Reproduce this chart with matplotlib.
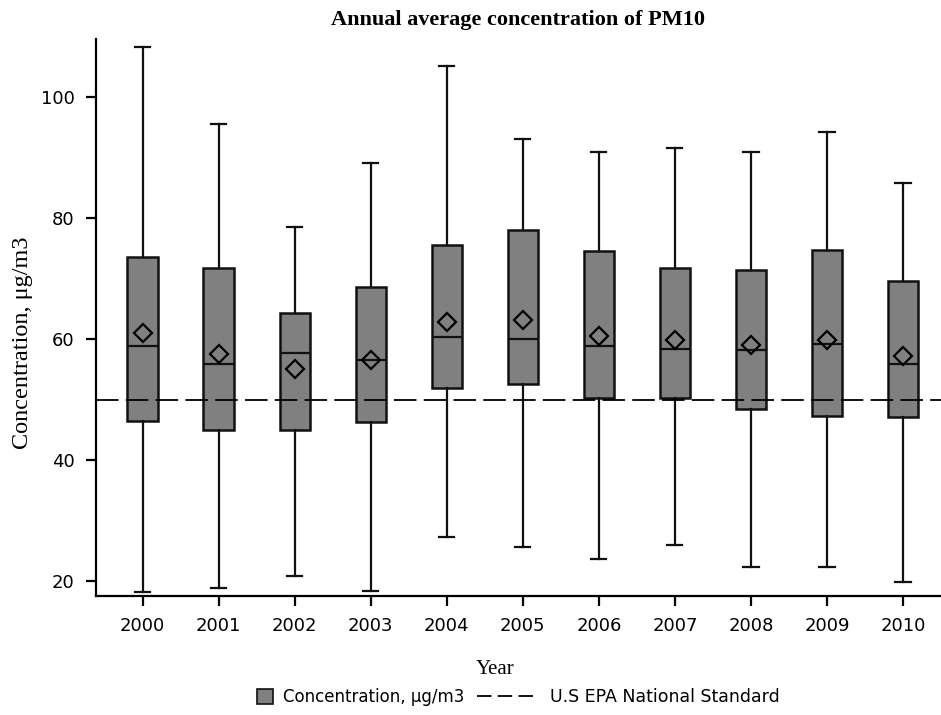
import matplotlib
matplotlib.use('Agg')
import matplotlib.pyplot as plt
from matplotlib.patches import Patch
from matplotlib.lines import Line2D

# data (ug/m3)
years = ['2000', '2001', '2002', '2003', '2004', '2005', '2006', '2007', '2008', '2009', '2010']
whislo = [18.2, 18.9, 20.9, 18.3, 27.3, 25.6, 23.7, 26.0, 22.3, 22.3, 19.8]
q1 = [46.5, 45.0, 45.0, 46.3, 52.0, 52.6, 50.2, 50.2, 48.4, 47.3, 47.1]
med = [58.8, 55.9, 57.7, 56.6, 60.3, 60.1, 58.9, 58.4, 58.2, 59.2, 55.9]
q3 = [73.6, 71.8, 64.3, 68.7, 75.6, 78.0, 74.6, 71.8, 71.4, 74.8, 69.7]
whishi = [108.4, 95.6, 78.5, 89.2, 105.2, 93.1, 90.9, 91.7, 91.0, 94.3, 85.8]
means = [61.0, 57.5, 55.1, 56.5, 62.8, 63.2, 60.6, 59.8, 59.0, 59.9, 57.2]
standard = 50

stats = []
for i in range(len(years)):
    stats.append({'label': years[i], 'whislo': whislo[i], 'q1': q1[i], 'med': med[i],
                  'q3': q3[i], 'whishi': whishi[i], 'mean': means[i], 'fliers': []})

fig = plt.figure(figsize=(9.41, 7.15), dpi=100)
ax = fig.add_axes([0.102, 0.167, 0.898, 0.778])

ax.bxp(stats, positions=range(len(years)), widths=0.4, patch_artist=True,
       showmeans=True, showfliers=False,
       boxprops=dict(facecolor='#808080', edgecolor='#111111', linewidth=1.8),
       medianprops=dict(color='#111111', linewidth=1.6),
       whiskerprops=dict(color='#111111', linewidth=1.6),
       capprops=dict(color='#111111', linewidth=1.6),
       capwidths=0.2,
       meanprops=dict(marker='D', markerfacecolor='none', markeredgecolor='black',
                      markersize=9.5, markeredgewidth=1.6))

# EPA standard line
ax.axhline(standard, color='black', linewidth=1.3, linestyle=(0, (12.5, 4)), zorder=3)

ax.set_xlim(-0.614, 10.5)
ax.set_ylim(17.6, 109.6)
ax.set_yticks([20, 40, 60, 80, 100])
ax.set_xticks(range(len(years)))
ax.set_xticklabels(years)

for s in ['top', 'right']:
    ax.spines[s].set_visible(False)
for s in ['left', 'bottom']:
    ax.spines[s].set_linewidth(1.6)
ax.tick_params(axis='both', direction='out', length=7.5, width=1.6, labelsize=13, pad=8)

ax.set_title('Annual average concentration of PM10', fontfamily='Liberation Serif',
             fontweight='bold', fontsize=16, pad=10)
ax.set_ylabel('Concentration, μg/m3', fontfamily='Liberation Serif', fontsize=17.5)
ax.yaxis.set_label_coords(-0.075, 0.455)
ax.set_xlabel('Year', fontfamily='Liberation Serif', fontsize=15)
ax.xaxis.set_label_coords(0.472, -0.116)

# legend, two parts so the handles can differ in length
leg1 = fig.legend([Patch(facecolor='#808080', edgecolor='#111111', linewidth=1.2)],
                  ['Concentration, μg/m3'], loc='center left',
                  bbox_to_anchor=(0.273, 0.025), frameon=False, fontsize=12,
                  handlelength=0.95, handleheight=0.95, handletextpad=0.6,
                  borderpad=0, borderaxespad=0)
leg2 = fig.legend([Line2D([0], [0], color='black', linewidth=1.3, linestyle=(0, (8, 3.5)))],
                  ['U.S EPA National Standard'], loc='center left',
                  bbox_to_anchor=(0.507, 0.025), frameon=False, fontsize=12.5,
                  handlelength=3.5, handletextpad=0.7, borderpad=0, borderaxespad=0)

fig.savefig('out.png', dpi=100)
